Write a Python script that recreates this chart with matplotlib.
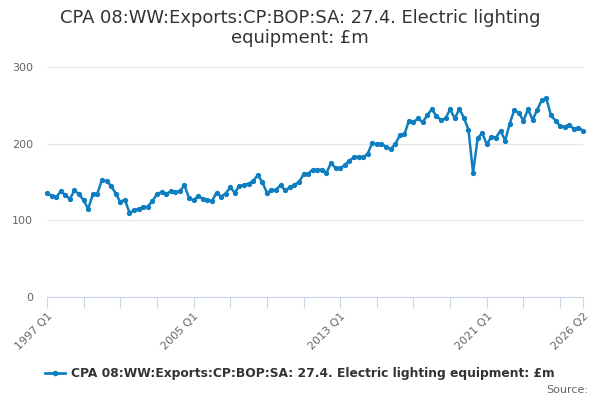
import matplotlib
matplotlib.use("Agg")
import matplotlib.pyplot as plt
from matplotlib.lines import Line2D

title = "CPA 08:WW:Exports:CP:BOP:SA: 27.4. Electric lighting equipment: £m"

# quarterly values, 1997 Q1 .. 2026 Q2
values = [
    136, 132, 130, 138, 133, 128, 139, 134, 126, 115,
    134, 135, 153, 151, 145, 135, 124, 127, 110, 113,
    115, 117, 118, 125, 134, 137, 134, 138, 137, 138,
    146, 129, 126, 132, 128, 127, 125, 136, 131, 135,
    143, 136, 145, 146, 148, 151, 159, 150, 136, 139,
    140, 146, 139, 143, 146, 150, 160, 161, 166, 166,
    166, 162, 175, 168, 168, 172, 178, 182, 183, 182,
    187, 201, 199, 200, 196, 193, 199, 211, 212, 230,
    228, 233, 228, 237, 245, 236, 231, 233, 245, 233,
    245, 234, 218, 162, 207, 214, 199, 209, 208, 217,
    204, 226, 244, 240, 230, 245, 231, 244, 257, 259,
    237, 230, 223, 222, 225, 219, 221, 217,
]

years = list(range(1997, 2027))
quarters = [f"{y} Q{q}" for y in years for q in range(1, 5)][:len(values)]
label_quarters = ["1997 Q1", "2005 Q1", "2013 Q1", "2021 Q1", "2026 Q2"]

blue = "#0f7ec0"
grey = "#666666"

fig = plt.figure(figsize=(6, 4), dpi=100)
ax = fig.add_axes([47/600, 1-297/400, (583-47)/600, (297-67)/400])

x = list(range(len(values)))
ax.plot(x, values, color=blue, lw=1.8, marker="o", ms=2.8, zorder=3, clip_on=False)

ax.set_xlim(0, len(values)-1)
ax.set_ylim(0, 300)
ax.set_yticks([0, 100, 200, 300])
ax.grid(axis="y", color="#e6e6e6", lw=1)
ax.set_axisbelow(True)

for s in ["top", "right", "left"]:
    ax.spines[s].set_visible(False)
ax.spines["bottom"].set_color("#ccd6eb")
ax.tick_params(axis="y", length=0, labelsize=8, labelcolor=grey, pad=10)

# ticks every 2 years plus the last quarter
tick_pos = list(range(0, len(values), 8)) + [len(values)-1]
ax.set_xticks(tick_pos)
ax.set_xticklabels([quarters[p] if quarters[p] in label_quarters else "" for p in tick_pos],
                   rotation=45, ha="right", rotation_mode="anchor")
ax.tick_params(axis="x", length=8, color="#ccd6eb", labelsize=8, labelcolor=grey, pad=2)

fig.text(0.5, 1-28/400, "CPA 08:WW:Exports:CP:BOP:SA: 27.4. Electric lighting\nequipment: £m",
         ha="center", va="center", fontsize=12.9, color="#333333", linespacing=1.2)

handle = Line2D([], [], color=blue, lw=2, marker="o", ms=3)
fig.legend([handle], [title], loc="center", bbox_to_anchor=(0.5, 1-374/400),
           frameon=False, prop={"size": 8.8, "weight": "bold"}, handlelength=1.6,
           handletextpad=0.5, labelcolor="#333333")
fig.text(588/600, 1-390/400, "Source:", ha="right", va="center", fontsize=8, color=grey)

fig.savefig("out.png", dpi=100)
